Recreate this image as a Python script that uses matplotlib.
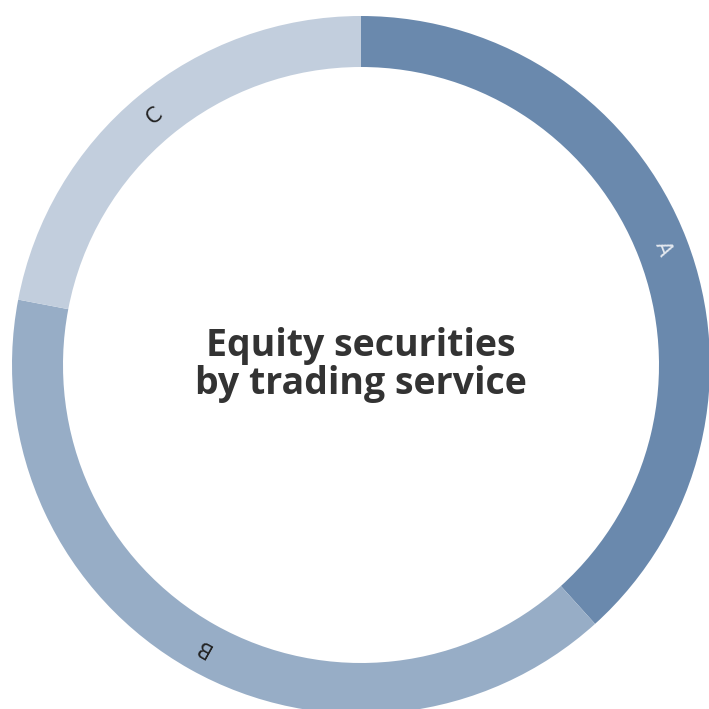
import numpy as np
import matplotlib
matplotlib.use("Agg")
import matplotlib.pyplot as plt

categories = ["A", "B", "C"]
values = [38.3, 39.7, 22.0]
colors = ["#6a89ad", "#97adc6", "#c2cedd"]
label_colors = ["#e4e9f0", "#222222", "#222222"]
title_text = "Equity securities\nby trading service"

W = H = 709
fig = plt.figure(figsize=(W / 100, H / 100), dpi=100)
ax = fig.add_axes([0, 0, 1, 1])
cx, cy = 361, 365

R_out, width = 349, 51
wedges, _ = ax.pie(values, colors=colors, radius=R_out, startangle=90,
                   counterclock=False, wedgeprops=dict(width=width, linewidth=0),
                   frame=True)
ax.set_xlim(-cx, W - cx)
ax.set_ylim(-(H - cy), cy)
ax.set_aspect("equal")
ax.axis("off")

r_mid = R_out - width / 2
for w, lab, lc in zip(wedges, categories, label_colors):
    ang = (w.theta1 + w.theta2) / 2
    x = r_mid * np.cos(np.deg2rad(ang))
    y = r_mid * np.sin(np.deg2rad(ang))
    ax.text(x, y, lab, rotation=ang - 90, rotation_mode="anchor",
            ha="center", va="center", fontsize=15, color=lc,
            family="DejaVu Sans")

ax.text(0, 0, title_text, ha="center", va="center", fontsize=27,
        fontweight="bold", color="#333333", family="Open Sans",
        linespacing=1.0)

fig.savefig("out.png", dpi=100)
